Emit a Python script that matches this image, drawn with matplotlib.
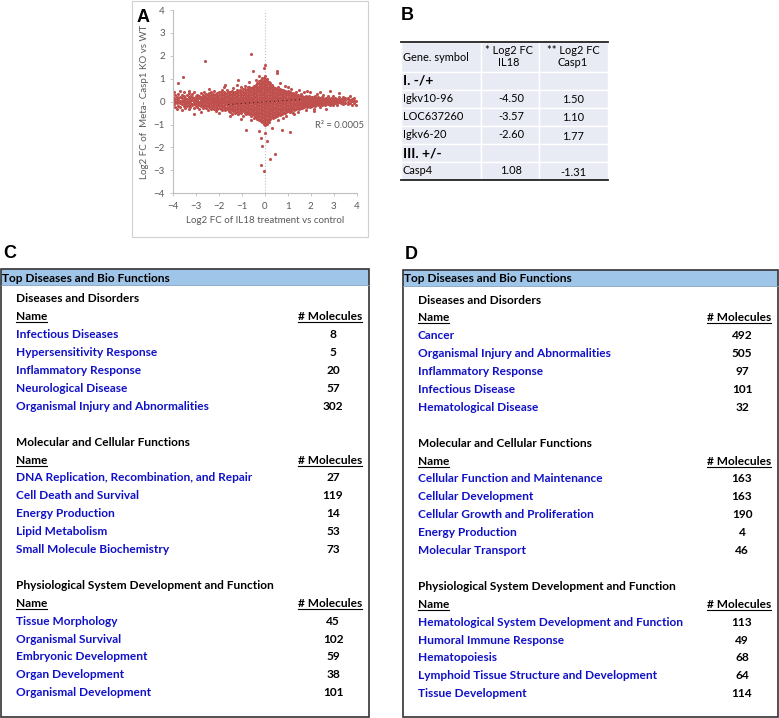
import numpy as np
import matplotlib.pyplot as plt
from matplotlib.patches import Rectangle

plt.rcParams["font.family"] = ["Lato", "DejaVu Sans"]

# ---------------- panel A: scatter, columns "x: y values"
scatter_cols = """
-3.98: 0.42 0.05 -0.12 0.18
-3.92: -0.25 0.10 -0.02 0.30
-3.85: 0.22 -0.08 0.02 -0.30
-3.78: 0.12 -0.18 0.35 0.00 0.83
-3.70: 0.05 -0.05 0.20 -0.22 0.45
-3.62: -0.10 0.15 0.02 0.28 -0.36
-3.58: 1.08
-3.55: 0.08 -0.20 0.25 -0.02 0.40
-3.48: -0.12 0.02 0.18 -0.28
-3.40: 0.10 -0.06 0.30 0.00 -0.18
-3.32: 0.20 -0.14 0.04 -0.30 0.38 0.48
-3.25: -0.04 0.12 -0.22 0.26 0.02
-3.18: 0.06 -0.10 0.22 -0.16 0.34
-3.11: -0.54
-3.10: -0.02 0.16 -0.26 0.08 0.40 -0.10
-3.03: 0.12 -0.08 0.24 -0.18 0.02
-2.95: -0.12 0.04 0.18 -0.22 0.30 0.08
-2.88: 0.00 0.14 -0.16 0.26 -0.06 -0.32
-2.80: 0.10 -0.04 0.22 -0.20 0.36 0.02 -0.44
-2.72: -0.08 0.06 0.18 -0.14 0.28 -0.26
-2.65: 0.04 -0.10 0.14 0.26 -0.20 0.40
-2.60: 1.78
-2.58: -0.02 0.10 -0.14 0.22 -0.28 0.34 0.04
-2.50: 0.08 -0.06 0.18 -0.18 0.30 0.00 -0.36
-2.43: -0.04 0.12 -0.12 0.24 -0.24 0.36 0.02 0.56
-2.36: 0.04 -0.08 0.16 -0.20 0.28 -0.32 0.44
-2.29: -0.02 0.10 -0.14 0.22 -0.26 0.34 0.06
-2.22: 0.06 -0.06 0.18 -0.18 0.30 -0.30 0.00 0.46
-2.15: -0.04 0.08 -0.12 0.20 -0.24 0.32 0.04 -0.40
-2.08: 0.02 -0.10 0.14 -0.20 0.26 -0.30 0.38 0.08
-2.01: -0.06 0.06 -0.16 0.18 -0.26 0.30 0.00 0.44 -0.48
-1.94: 0.04 -0.08 0.16 -0.20 0.28 -0.32 0.40 -0.02
-1.87: -0.02 0.10 -0.14 0.22 -0.24 0.34 -0.36 0.06 0.52
-1.80: 0.06 -0.06 0.18 -0.18 0.30 -0.30 0.42 0.00 0.62
-1.73: -0.04 0.08 -0.12 0.20 -0.26 0.32 -0.38 0.04 0.74
-1.66: 0.02 -0.10 0.14 -0.22 0.26 -0.32 0.38 -0.02 0.50
-1.59: -0.06 0.06 -0.16 0.18 -0.28 0.30 -0.40 0.42 0.00
-1.52: 0.04 -0.08 0.16 -0.20 0.28 -0.32 0.40 -0.44 0.08 -0.64
-1.45: -0.02 0.10 -0.14 0.22 -0.26 0.34 -0.36 0.46 0.02 -0.56
-1.38: 0.06 -0.06 0.18 -0.18 0.30 -0.30 0.42 -0.42 0.00 0.58
-1.31: -0.04 0.08 -0.12 0.20 -0.24 0.32 -0.36 0.44 0.04 -0.48
-1.24: 0.02 -0.10 0.14 -0.22 0.26 -0.34 0.38 -0.44 0.50 -0.02 0.72
-1.17: -0.06 0.06 -0.16 0.18 -0.28 0.30 -0.40 0.42 0.00 0.95 -0.56
-1.10: 0.04 -0.08 0.16 -0.20 0.28 -0.32 0.40 -0.44 0.52 0.10
-1.03: -0.02 0.10 -0.14 0.22 -0.26 0.34 -0.38 0.46 -0.50 0.02 0.62 -0.74
-0.96: 0.06 -0.06 0.18 -0.18 0.30 -0.30 0.42 -0.42 0.54 0.00 -0.62
-0.89: -0.04 0.08 -0.12 0.20 -0.24 0.32 -0.36 0.44 -0.48 0.56 0.04 0.70
-0.82: 0.02 -0.10 0.14 -0.22 0.26 -0.34 0.38 -0.46 0.50 -0.56 -0.02 -1.24
-0.75: -0.06 0.06 -0.16 0.18 -0.28 0.30 -0.40 0.42 -0.50 0.54 0.00 0.66
-0.68: 0.04 -0.08 0.16 -0.20 0.28 -0.32 0.40 -0.44 0.52 -0.56 0.64 0.10 0.86
-0.61: -0.02 0.10 -0.14 0.22 -0.26 0.34 -0.38 0.46 -0.50 0.58 -0.62 0.02 2.08 -0.80
-0.54: 0.06 -0.06 0.18 -0.18 0.30 -0.30 0.42 -0.42 0.54 -0.54 0.66 0.00 1.32
-0.47: -0.04 0.08 -0.12 0.20 -0.24 0.32 -0.36 0.44 -0.48 0.56 -0.60 0.68 0.04 -0.72
-0.40: 0.02 -0.10 0.14 -0.22 0.26 -0.34 0.38 -0.46 0.50 -0.58 0.62 -0.68 0.74 -0.02 0.96
-0.33: -0.06 0.06 -0.16 0.18 -0.28 0.30 -0.40 0.42 -0.52 0.54 -0.64 0.66 -0.76 0.80 0.00
-0.26: 0.04 -0.08 0.16 -0.20 0.28 -0.32 0.40 -0.44 0.52 -0.56 0.64 -0.68 0.76 -0.80 0.90 1.10 -1.26
-0.19: -0.02 0.10 -0.14 0.22 -0.26 0.34 -0.38 0.46 -0.50 0.58 -0.62 0.70 -0.74 0.82 -0.86 0.94 -2.76 -1.60
-0.12: 0.06 -0.06 0.18 -0.18 0.30 -0.30 0.42 -0.42 0.54 -0.54 0.66 -0.66 0.78 -0.78 0.90 -0.90 1.02 -1.92
-0.05: -0.04 0.08 -0.12 0.20 -0.24 0.32 -0.36 0.44 -0.48 0.56 -0.60 0.68 -0.72 0.80 -0.84 0.92 -0.96 1.04 1.45 -3.01
0.02: 0.02 -0.10 0.14 -0.22 0.26 -0.34 0.38 -0.46 0.50 -0.58 0.62 -0.70 0.74 -0.82 0.86 -0.94 0.98 -1.02 1.10 1.60 -1.38
0.09: -0.06 0.06 -0.16 0.18 -0.28 0.30 -0.40 0.42 -0.52 0.54 -0.64 0.66 -0.76 0.78 -0.88 0.90 -0.98 1.00 -1.72
0.16: 0.04 -0.08 0.16 -0.20 0.28 -0.32 0.40 -0.44 0.52 -0.56 0.64 -0.68 0.76 -0.80 0.86 -0.90
0.23: -0.02 0.10 -0.14 0.22 -0.26 0.34 -0.38 0.46 -0.50 0.58 -0.62 0.70 -0.74 0.80 -2.52
0.30: 0.06 -0.06 0.18 -0.18 0.30 -0.30 0.42 -0.42 0.54 -0.54 0.66 -0.66 0.74 -1.16
0.37: -0.04 0.08 -0.12 0.20 -0.24 0.32 -0.36 0.44 -0.48 0.56 -0.60 0.64 -0.70
0.44: 0.02 -0.10 0.14 -0.22 0.26 -0.34 0.38 -0.46 0.50 -0.58 0.60 -0.66 -2.28
0.51: -0.06 0.06 -0.16 0.18 -0.28 0.30 -0.40 0.42 -0.52 0.54 -0.62 1.34 1.24
0.58: 0.04 -0.08 0.16 -0.20 0.28 -0.32 0.40 -0.44 0.50 -0.56 0.62 -0.80
0.65: -0.02 0.10 -0.14 0.22 -0.26 0.34 -0.38 0.44 -0.50 0.54 -0.60 0.82
0.72: 0.06 -0.06 0.18 -0.18 0.30 -0.30 0.40 -0.42 0.50 -0.54 -1.24
0.79: -0.04 0.08 -0.12 0.20 -0.24 0.32 -0.36 0.42 -0.48 0.52 -0.72
0.86: 0.02 -0.10 0.14 -0.22 0.26 -0.34 0.38 -0.44 0.48 -0.50 0.70
0.93: -0.06 0.06 -0.16 0.18 -0.28 0.30 -0.38 0.40 -0.46 -0.62
1.00: 0.04 -0.08 0.16 -0.20 0.28 -0.32 0.36 -0.42 0.46 0.66
1.07: -0.02 0.10 -0.14 0.22 -0.26 0.32 -0.36 0.40 -0.44 -1.34
1.14: 0.06 -0.06 0.18 -0.18 0.28 -0.28 0.38 -0.40 0.56
1.21: -0.04 0.08 -0.12 0.20 -0.24 0.30 -0.34 0.36 -0.50
1.28: 0.02 -0.10 0.14 -0.20 0.24 -0.30 0.34 -0.36 -0.56
1.35: -0.06 0.06 -0.14 0.16 -0.26 0.28 -0.32 0.40
1.42: 0.04 -0.08 0.14 -0.18 0.24 -0.28 0.30 -0.44
1.49: -0.02 0.10 -0.12 0.20 -0.22 0.26 -0.30 0.50
1.56: 0.06 -0.06 0.16 -0.16 0.24 -0.26 0.34
1.63: -0.04 0.08 -0.12 0.18 -0.20 0.26 -0.28
1.70: 0.02 -0.08 0.12 -0.16 0.22 -0.24 0.40
1.77: -0.06 0.06 -0.12 0.16 -0.20 0.24 -0.36
1.84: 0.04 -0.06 0.14 -0.14 0.22 -0.22 0.46
1.91: -0.02 0.08 -0.10 0.16 -0.18 0.24
1.98: 0.04 -0.06 0.12 -0.14 0.20 -0.24 0.42
2.05: -0.02 0.08 -0.10 0.16 -0.18 0.22
2.12: 0.04 -0.06 0.12 -0.14 0.20 -0.30 -0.40
2.19: -0.02 0.08 -0.10 0.14 -0.18 0.24
2.26: 0.04 -0.06 0.12 -0.12 0.18 0.32
2.33: -0.02 0.08 -0.10 0.14 -0.16 0.20
2.40: 0.02 -0.06 0.10 -0.12 0.18 -0.22 0.42
2.47: -0.02 0.06 -0.08 0.14 -0.14 0.22
2.54: 0.02 -0.06 0.10 -0.12 0.16 0.30
2.61: -0.02 0.06 -0.08 0.12 -0.16
2.68: 0.02 -0.06 0.10 -0.10 0.18 -0.32
2.75: -0.02 0.06 -0.10 0.14 0.24
2.82: 0.02 -0.06 0.10 -0.14 0.47
2.89: -0.02 0.06 0.14 -0.10
2.96: 0.04 -0.04 0.12 -0.14 0.26
3.05: 0.00 0.08 -0.08 0.18
3.14: 0.04 -0.04 0.12 -0.16
3.22: -0.02 0.08 0.20 0.36
3.30: 0.04 -0.06 0.12
3.40: 0.00 0.10 -0.12 0.22
3.50: 0.06 -0.04 0.16
3.60: 0.00 0.10 -0.10 0.18
3.70: 0.06 -0.06 0.24
3.80: 0.02 0.12 -0.14
3.90: 0.04 -0.08 0.16
3.97: -0.14 0.02
"""
r2_label = "R² = 0.0005"
trend_x = [-1.6, 1.6]
trend_y = [-0.12, 0.10]
axis_ticks = [-4, -3, -2, -1, 0, 1, 2, 3, 4]

# ---------------- panel B: gene table
b_header = ["Gene. symbol", "* Log2 FC\nIL18", "** Log2 FC\nCasp1"]
b_groups = ["I. -/+", "III. +/-"]
b_genes = [["Igkv10-96", "LOC637260", "Igkv6-20"], ["Casp4"]]
b_fc_il18 = [["-4.50", "-3.57", "-2.60"], ["1.08"]]
b_fc_casp1 = [["1.50", "1.10", "1.77"], ["-1.31"]]

# ---------------- panels C and D: IPA tables
sections = ["Diseases and Disorders", "Molecular and Cellular Functions",
            "Physiological System Development and Function"]
c_names = [
    ["Infectious Diseases", "Hypersensitivity Response", "Inflammatory Response",
     "Neurological Disease", "Organismal Injury and Abnormalities"],
    ["DNA Replication, Recombination, and Repair", "Cell Death and Survival",
     "Energy Production", "Lipid Metabolism", "Small Molecule Biochemistry"],
    ["Tissue Morphology", "Organismal Survival", "Embryonic Development",
     "Organ Development", "Organismal Development"],
]
c_counts = [[8, 5, 20, 57, 302], [27, 119, 14, 53, 73], [45, 102, 59, 38, 101]]
d_names = [
    ["Cancer", "Organismal Injury and Abnormalities", "Inflammatory Response",
     "Infectious Disease", "Hematological Disease"],
    ["Cellular Function and Maintenance", "Cellular Development",
     "Cellular Growth and Proliferation", "Energy Production", "Molecular Transport"],
    ["Hematological System Development and Function", "Humoral Immune Response",
     "Hematopoiesis", "Lymphoid Tissue Structure and Development", "Tissue Development"],
]
d_counts = [[492, 505, 97, 101, 32], [163, 163, 190, 4, 46], [113, 49, 68, 64, 114]]

W, H = 779, 718
fig = plt.figure(figsize=(W / 100, H / 100), dpi=100)
bg = fig.add_axes([0, 0, 1, 1])
bg.set_xlim(0, W)
bg.set_ylim(H, 0)
bg.axis("off")

BLUE = "#1010C8"
underlines = []

# ---- panel A
bg.add_patch(Rectangle((132, 0.5), 236, 236, fill=False, ec="#D0D0D0", lw=0.8))
bg.text(137, 22, "A", fontsize=13, fontweight="bold", family="Liberation Sans")

ax = fig.add_axes([173.3 / W, 1 - 193.3 / H, 183.4 / W, 183.3 / H])
xs, ys = [], []
for line in scatter_cols.strip().splitlines():
    x, vals = line.split(":")
    for v in vals.split():
        xs.append(float(x))
        ys.append(float(v))
ax.axvline(0, color="#BFBFBF", ls=":", lw=0.8, zorder=1)
ax.scatter(xs, ys, s=5, c="#C0504D", linewidths=0, zorder=2)
ax.plot(trend_x, trend_y, color="black", ls=(0, (1, 4)), lw=0.6, zorder=3)
ax.set_xlim(-4, 4)
ax.set_ylim(-4, 4)
ax.set_xticks(axis_ticks)
ax.set_yticks(axis_ticks)
for s in ["top", "right"]:
    ax.spines[s].set_visible(False)
for s in ["left", "bottom"]:
    ax.spines[s].set_color("#BFBFBF")
    ax.spines[s].set_linewidth(0.8)
ax.tick_params(labelsize=7, colors="#595959", length=2, width=0.6, pad=4)
ax.tick_params(axis="both", color="#BFBFBF")
ax.set_xlabel("Log2 FC of IL18 treatment vs control", fontsize=7, color="#595959", labelpad=4)
ax.set_ylabel("Log2 FC of  Meta- Casp1 KO vs WT", fontsize=7, color="#595959", labelpad=3)
ax.text(2.2, -1.02, r2_label, fontsize=6.8, color="#595959", va="center")

# ---- panel B
bg.text(401, 20, "B", fontsize=13, fontweight="bold", family="Liberation Sans")
bx = [401, 481, 539, 608]
by = [41.7, 71.7]
for g in b_genes:
    by.append(by[-1] + 17.8)
    for _ in g:
        by.append(by[-1] + 18.2)
for i in range(len(by) - 1):
    for j in range(3):
        bg.add_patch(Rectangle((bx[j], by[i]), bx[j + 1] - bx[j], by[i + 1] - by[i],
                               fc="#E9EBF4", ec="white", lw=1.0))
bg.plot([bx[0], bx[-1]], [by[0], by[0]], color="#222222", lw=1.3)
bg.plot([bx[0], bx[-1]], [by[-1], by[-1]], color="#222222", lw=1.3)
fs_b = 7.9
bg.text(403, (by[0] + by[1]) / 2 + 1, b_header[0], fontsize=fs_b, va="center")
bg.text(509, (by[0] + by[1]) / 2, b_header[1], fontsize=fs_b, va="center", ha="center",
        linespacing=1.05)
bg.text(573, (by[0] + by[1]) / 2, b_header[2], fontsize=fs_b, va="center", ha="center",
        linespacing=1.05)
row = 1
for g, grp in enumerate(b_groups):
    yc = (by[row] + by[row + 1]) / 2
    bg.text(403, yc, grp, fontsize=10, fontweight="bold", va="center")
    row += 1
    for k, gene in enumerate(b_genes[g]):
        yc = (by[row] + by[row + 1]) / 2
        bg.text(403, yc, gene, fontsize=fs_b, va="center")
        bg.text(511, yc, b_fc_il18[g][k], fontsize=fs_b, va="center", ha="center")
        bg.text(573, yc + 1, b_fc_casp1[g][k], fontsize=fs_b, va="center", ha="center")
        row += 1


# ---- panels C and D
def ipa_table(x0, x1, top, bottom, label, names, counts):
    bg.text(x0 + 2, top - 11, label, fontsize=13, fontweight="bold", family="Liberation Sans")
    bg.add_patch(Rectangle((x0, top), x1 - x0, 16, fc="#9FC5E8", ec="none"))
    bg.plot([x0, x1], [top + 16, top + 16], color="#7F9FBF", lw=0.6)
    bg.add_patch(Rectangle((x0, top), x1 - x0, bottom - top, fill=False, ec="#333333", lw=1.2))
    fs = 8.6
    bg.text(x0 + 1.5, top + 12.5, "Top Diseases and Bio Functions", fontsize=fs,
            fontweight="bold", va="baseline")
    ind = x0 + 15
    right = x1 - 6.5
    cnt_x = x1 - 36
    step = 17.9
    y = top + 29 + 4.5
    for s, sec in enumerate(sections):
        bg.text(ind, y, sec, fontsize=fs, fontweight="bold", va="baseline")
        y += step
        t1 = bg.text(ind, y, "Name", fontsize=fs, fontweight="bold", va="baseline")
        t2 = bg.text(right, y, "# Molecules", fontsize=fs, fontweight="bold",
                     va="baseline", ha="right")
        underlines.extend([(t1, y), (t2, y)])
        y += step
        for nm, c in zip(names[s], counts[s]):
            bg.text(ind, y, nm, fontsize=fs, fontweight="bold", color=BLUE, va="baseline")
            bg.text(cnt_x, y, str(c), fontsize=fs, fontweight="bold", va="baseline",
                    ha="center")
            y += step
        y += step


ipa_table(1, 369, 269, 717, "C", c_names, c_counts)
ipa_table(403, 778, 270, 717, "D", d_names, d_counts)

# underline the "Name" / "# Molecules" headers
fig.canvas.draw()
inv = bg.transData.inverted()
for t, yb in underlines:
    bb = t.get_window_extent()
    xa = inv.transform((bb.x0, 0))[0]
    xb = inv.transform((bb.x1, 0))[0]
    bg.plot([xa, xb], [yb + 2, yb + 2], color="black", lw=0.8)

fig.savefig("out.png", dpi=100)
